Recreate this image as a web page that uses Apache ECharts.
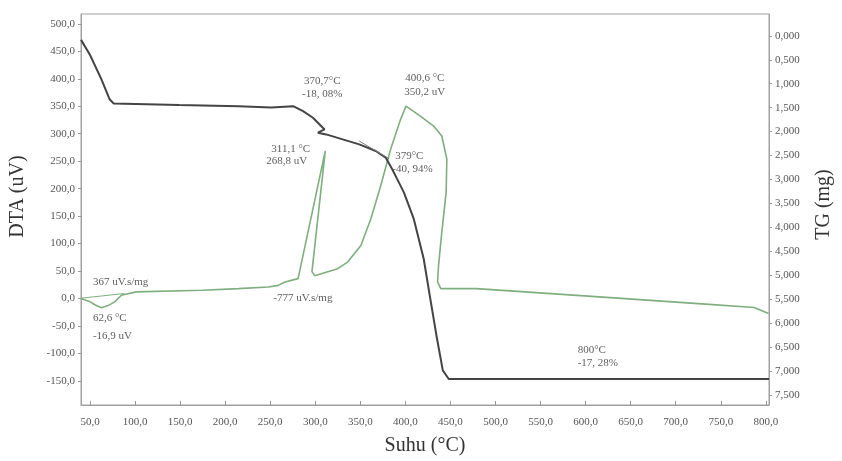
<!DOCTYPE html>
<html><head><meta charset="utf-8">
<script src="https://cdn.jsdelivr.net/npm/echarts@6/dist/echarts.min.js"></script>
<style>html,body{margin:0;padding:0;background:#fff}#c{width:842px;height:461px}</style>
</head><body><div id="c"></div>
<script>
// tick values / labels
const xTicks = [50,100,150,200,250,300,350,400,450,500,550,600,650,700,750,800];
const dtaTicks = [-150,-100,-50,0,50,100,150,200,250,300,350,400,450,500];
const tgTicks = [0,0.5,1,1.5,2,2.5,3,3.5,4,4.5,5,5.5,6,6.5,7,7.5];

// DTA curve (uV) vs temperature (°C)
const dtaTemp = [40,50,56,62.6,70,77.4,84.8,101.3,174.5,214.9,247.9,258.9,266.3,280.9,311.1,296.3,299.3,324.9,335.9,350.6,361.6,372.6,383.6,394.6,400.6,416.6,431.3,440.4,446,445.2,440.4,436.8,435.7,439.3,478.9,611,721,787,803];
const dtaValue = [0,-6.2,-12,-16.9,-13,-6.2,5.8,12,14.9,17.9,21,23.9,30.1,36.1,268.8,48.8,41.5,54.2,66.3,96.4,144.8,205.2,271.7,326,350.2,332,313.9,295.8,253.5,193.2,120.7,60.2,30.1,18,18,3.3,-9,-16.5,-27.4];

// DTA integration baseline of first peak
const baseTemp = [40,88];
const baseValue = [0.5,9];

// TG curve (mg lost) vs temperature (°C)
const tgTemp = [40,49.9,62.8,71.9,76.3,148.9,214.9,251.2,275.4,286.4,297.4,310.3,302.9,312.1,330.4,348.8,367.1,378.1,385.4,390.9,398.3,409.3,420.3,427.6,435,441.5,448.1,611,803.5];
const tgLoss = [0.083,0.395,0.915,1.331,1.414,1.445,1.47,1.497,1.47,1.574,1.711,1.955,2.023,2.059,2.163,2.267,2.406,2.543,2.786,2.994,3.271,3.826,4.658,5.49,6.32,6.99,7.17,7.17,7.17];

// TG onset tangent
const tanTemp = [348.8,381.8];
const tanLoss = [2.198,2.566];

// annotations (anchored at their left edge, on the DTA scale)
const noteText = ['367 uV.s/mg','62,6 °C','-16,9 uV','-777 uV.s/mg','311,1 °C','268,8 uV','370,7°C','-18, 08%','400,6 °C','350,2 uV','379°C','-40, 94%','800°C','-17, 28%'];
const noteTemp = [53.2,53.2,53.2,253.4,251.2,245.7,287.5,285.3,399.7,398.6,388.7,385.4,591.2,591.2];
const noteValue = [30.6,-36.4,-69,-0.2,271.7,250,396.7,371.3,402.1,375,259,235.4,-94.4,-118];

const zip = (a,b) => a.map((v,i) => [v,b[i]]);
const serif = 'Liberation Serif';
const fmt = (v,d) => v.toFixed(d).replace('.', ',');

const chart = echarts.init(document.getElementById('c'));
chart.setOption({
  animation: false,
  backgroundColor: '#fff',
  grid: {left: 81, right: 67, top: 14, bottom: 54, show: true, borderColor: '#a0a0a0', borderWidth: 1},
  xAxis: {
    type: 'value', min: 40, max: 803.5,
    name: 'Suhu (°C)', nameLocation: 'middle', nameGap: 31,
    nameTextStyle: {fontFamily: serif, fontSize: 20, color: '#333'},
    axisLine: {onZero: false, lineStyle: {color: '#a0a0a0'}},
    axisTick: {inside: true, length: 4, customValues: xTicks, lineStyle: {color: '#999'}},
    axisLabel: {customValues: xTicks, margin: 12, fontFamily: serif, fontSize: 11, color: '#555', formatter: v => fmt(v,1)},
    splitLine: {show: false}
  },
  yAxis: [{
    type: 'value', min: -194, max: 518,
    name: 'DTA (uV)', nameLocation: 'middle', nameGap: 53,
    nameTextStyle: {fontFamily: serif, fontSize: 20, color: '#333', padding: [0,0,0,26]},
    axisLine: {show: true, onZero: false, lineStyle: {color: '#a0a0a0'}},
    axisTick: {show: true, length: 3, customValues: dtaTicks, lineStyle: {color: '#999'}},
    axisLabel: {customValues: dtaTicks, margin: 6, fontFamily: serif, fontSize: 11, color: '#555', formatter: v => fmt(v,1)},
    splitLine: {show: false}
  }, {
    type: 'value', position: 'right', inverse: true, min: -0.4575, max: 7.714,
    name: 'TG (mg)', nameLocation: 'middle', nameGap: 45,
    nameTextStyle: {fontFamily: serif, fontSize: 20, color: '#333', padding: [0,0,0,10]},
    axisLine: {show: true, onZero: false, lineStyle: {color: '#a0a0a0'}},
    axisTick: {show: true, length: 3, customValues: tgTicks, lineStyle: {color: '#999'}},
    axisLabel: {customValues: tgTicks, margin: 6, fontFamily: serif, fontSize: 11, color: '#555', formatter: v => fmt(v,3)},
    splitLine: {show: false}
  }],
  series: [{
    name: 'DTA', type: 'line', yAxisIndex: 0, data: zip(dtaTemp, dtaValue),
    symbol: 'none', lineStyle: {color: '#7fae7f', width: 1.6}, itemStyle: {color: '#7fae7f'}
  }, {
    name: 'Baseline', type: 'line', yAxisIndex: 0, data: zip(baseTemp, baseValue),
    symbol: 'none', lineStyle: {color: '#7fae7f', width: 1}, itemStyle: {color: '#7fae7f'}
  }, {
    name: 'TG', type: 'line', yAxisIndex: 1, data: zip(tgTemp, tgLoss),
    symbol: 'none', lineStyle: {color: '#444', width: 2}, itemStyle: {color: '#444'}
  }, {
    name: 'Tangent', type: 'line', yAxisIndex: 1, data: zip(tanTemp, tanLoss),
    symbol: 'none', lineStyle: {color: '#777', width: 1}, itemStyle: {color: '#777'}
  }, {
    name: 'Notes', type: 'scatter', yAxisIndex: 0, silent: true,
    symbolSize: 0, itemStyle: {color: 'rgba(0,0,0,0)'},
    data: noteText.map((t,i) => ({name: t, value: [noteTemp[i], noteValue[i]]})),
    label: {show: true, position: 'right', distance: 0, formatter: p => p.name,
            fontFamily: serif, fontSize: 11, color: '#333'}
  }]
});
</script></body></html>
